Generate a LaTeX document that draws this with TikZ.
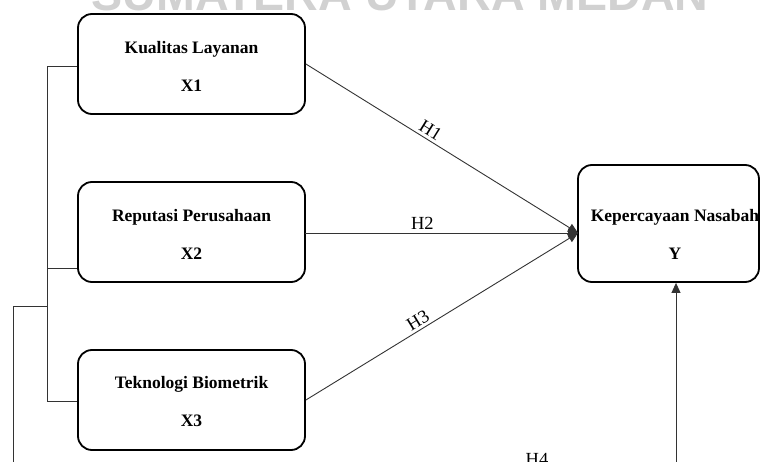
\documentclass[tikz,border=0pt]{standalone}
\usepackage{fontspec}
\setmainfont{Liberation Serif}
\newfontfamily\wmfont{Liberation Sans}
\usetikzlibrary{arrows.meta}
\tikzset{
  varbox/.style={draw=black, line width=1.8pt, rounded corners=14pt, minimum width=227pt, minimum height=100pt, inner sep=0pt},
  boxtext/.style={font=\bfseries\fontsize{17.5}{38}\selectfont, align=center, inner sep=0pt},
  conn/.style={draw=black!80, line width=0.9pt},
  arr/.style={conn, -{Triangle[length=10pt,width=9pt]}},
  hlabel/.style={font=\fontsize{18.5}{20}\selectfont, inner sep=3pt, black}
}
\begin{document}
\begin{tikzpicture}[x=1pt,y=-1pt]
\useasboundingbox (0,0) rectangle (760,462);
% watermark
\node (wm) [anchor=base, font=\wmfont\bfseries\fontsize{46.6}{50}\selectfont, text=black!18, inner sep=0pt] at (400,11) {SUMATERA UTARA MEDAN};
% boxes
\node (x1) [varbox] at (191.5,64) {};
\node (x1t) [boxtext] at (191.5,66) {Kualitas Layanan\\X1};
\node (x2) [varbox] at (191.5,232) {};
\node (x2t) [boxtext] at (191.5,234) {Reputasi Perusahaan\\X2};
\node (x3) [varbox] at (191.5,400) {};
\node (x3t) [boxtext] at (191.5,402) {Teknologi Biometrik\\X3};
\node (y) [varbox, minimum width=181pt, minimum height=117pt] at (668.5,223.5) {};
\node (yt) [boxtext] at (675,234) {Kepercayaan Nasabah\\Y};
% connectors
\coordinate (tip) at (578,233);
\draw[arr] (x1.east) -- node[hlabel, pos=0.44, above, sloped] {H1} (tip);
\draw[arr] (305,233) -- node[hlabel, pos=0.43, above] {H2} (tip);
\draw[arr] (x3.east) -- node[hlabel, pos=0.43, above, sloped] {H3} (tip);
% left brackets
\coordinate (b1) at (47,66);
\coordinate (b2) at (47,268);
\coordinate (b3) at (47,401);
\coordinate (bm) at (47,306);
\coordinate (l1) at (13,306);
\coordinate (l2) at (13,480);
\coordinate (r2) at (676,480);
\draw[conn] (x1.west |- b1) -- (b1) -- (b3) -- (x3.west |- b3);
\draw[conn] (b2) -- (x2.west |- b2);
\draw[conn] (bm) -- (l1) -- (l2) -- (r2);
\draw[arr] (r2) -- (r2 |- y.south);
\node (h4) [hlabel, anchor=base] at (537,465) {H4};
\end{tikzpicture}
\end{document}
